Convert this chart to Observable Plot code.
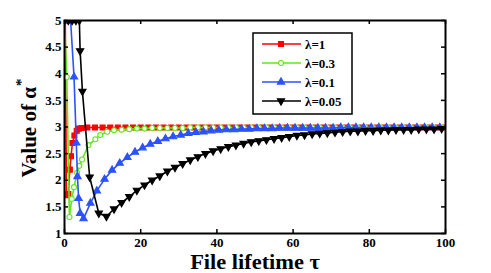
<!DOCTYPE html>
<html><head><meta charset="utf-8">
<script src="https://cdn.jsdelivr.net/npm/d3@7"></script>
<script src="https://cdn.jsdelivr.net/npm/@observablehq/plot@0.6"></script>
<style>
html,body{margin:0;padding:0;background:#fff;}
#wrap{position:relative;width:491px;height:273px;overflow:hidden;}
#wrap svg{position:absolute;left:0;top:0;}
.lbl{position:absolute;font-family:"Liberation Serif","Times New Roman",serif;font-weight:bold;color:#000;white-space:nowrap;line-height:1;}
</style>
</head><body>
<div id="wrap"></div>
<script>
// ---- data ----
const xTicks = [0, 20, 40, 60, 80, 100];
const yTicks = [1, 1.5, 2, 2.5, 3, 3.5, 4, 4.5, 5];
const seriesNames = ["λ=1", "λ=0.3", "λ=0.1", "λ=0.05"];

const redX = [0.2,0.5,1.0,1.4,1.7,2.1,2.6,3.2,3.8,4.5,6,8,10,12,14,16,18,20,22,24,26,28,30,32,34,36,38,40,42,44,46,48,50,52,54,56,58,60,62,64,66,68,70,72,74,76,78,80,82,84,86,88,90,92,94,96,98,100];
const redY = [5,1.72,1.74,2.2,2.45,2.7,2.84,2.93,2.97,2.98,2.99,2.99,2.99,2.99,2.99,2.99,2.99,2.99,2.99,2.99,2.99,2.99,2.99,2.99,2.99,2.99,2.99,2.99,2.99,2.99,2.99,2.99,2.99,2.99,2.99,2.99,2.99,2.99,2.99,2.99,2.99,2.99,2.99,2.99,2.99,2.99,2.99,2.99,2.99,2.99,2.99,2.99,2.99,2.99,2.99,2.99,2.99,2.99];

const greenX = [0,0.6,1.3,1.9,2.5,3.3,3.9,4.6,6.3,8.1,9.4,11.2,13,15,17,19,21,23,25,27,29,31,33,35,37,39,41,43,45,47,49,51,53,55,57,59,61,63,65,67,69,71,73,75,77,79,81,83,85,87,89,91,93,95,97,99];
const greenY = [5,3.94,1.31,1.65,1.87,2.14,2.27,2.39,2.66,2.77,2.85,2.91,2.94,2.95,2.96,2.97,2.97,2.98,2.98,2.98,2.98,2.98,2.99,2.99,2.99,2.99,2.99,2.99,2.99,2.99,2.99,2.99,2.99,2.99,2.99,2.99,2.99,2.99,2.99,2.99,2.99,2.99,2.99,2.99,2.99,2.99,2.99,2.99,2.99,2.99,2.99,2.99,2.99,2.99,2.99,2.99];

const blueX = [0.3,1.0,1.6,2.5,3.1,3.4,3.7,4.1,5,6.8,8.5,10.5,12.5,14.5,16.5,18.5,20.5,22.5,24.5,26.5,28.5,30.5,32.5,34.5,36.5,38.5,40.5,42.5,44.5,46.5,48.5,50.5,52.5,54.5,56.5,58.5,60.5,62.5,64.5,66.5,68.5,70.5,72.5,74.5,76.5,78.5,80.5,82.5,84.5,86.5,88.5,90.5,92.5,94.5,96.5,98.5];
const blueY = [5,5,5,3.94,2.7,2.07,1.66,1.38,1.28,1.57,1.8,2.02,2.19,2.32,2.43,2.53,2.61,2.68,2.73,2.78,2.82,2.85,2.88,2.9,2.91,2.93,2.94,2.95,2.95,2.96,2.96,2.97,2.97,2.97,2.98,2.98,2.98,2.98,2.98,2.98,2.98,2.98,2.99,2.99,2.99,2.99,2.99,2.99,2.99,2.99,2.99,2.99,2.99,2.99,2.99,2.99];

const blackX = [0,1,2,3,3.9,4.1,4.7,6.6,9,11,13,15,17,19,21,23,25,27,29,31,33,35,37,39,41,43,45,47,49,51,53,55,57,59,61,63,65,67,69,71,73,75,77,79,81,83,85,87,89,91,93,95,97,99];
const blackY = [5,5,5,5,5,4.43,3.67,2.06,1.38,1.32,1.46,1.58,1.69,1.81,1.91,2.0,2.08,2.17,2.24,2.31,2.38,2.44,2.5,2.55,2.59,2.63,2.66,2.69,2.72,2.74,2.76,2.78,2.8,2.82,2.84,2.85,2.87,2.88,2.89,2.9,2.91,2.92,2.92,2.93,2.93,2.94,2.94,2.95,2.95,2.95,2.96,2.96,2.96,2.97];

// ---- styles ----
const colors = ["#ff0000", "#5ee81a", "#2a52ff", "#000000"];
const sqrt3 = Math.sqrt(3);
const triangleDown = {
  draw(context, size) {
    const y = -Math.sqrt(size / (sqrt3 * 3));
    context.moveTo(0, -y * 2);
    context.lineTo(-sqrt3 * y, y);
    context.lineTo(sqrt3 * y, y);
    context.closePath();
  }
};
const toRows = (xs, ys) => xs.map((x, i) => ({x, y: ys[i]}));
const series = [
  {data: toRows(redX, redY), color: colors[0], symbol: "square", r: 2.8, fill: colors[0], stroke: colors[0]},
  {data: toRows(greenX, greenY), color: colors[1], symbol: "circle", r: 2.5, fill: "white", stroke: colors[1]},
  {data: toRows(blueX, blueY), color: colors[2], symbol: "triangle", r: 2.7, fill: colors[2], stroke: colors[2]},
  {data: toRows(blackX, blackY), color: colors[3], symbol: triangleDown, r: 2.7, fill: colors[3], stroke: colors[3]}
];

const W = 491, H = 273, mL = 64, mR = 46, mT = 20, mB = 40;
const frameH = H - mT - mB, frameW = W - mL - mR, tk = 4;

const marks = [];
for (const s of series) {
  marks.push(Plot.line(s.data, {x: "x", y: "y", stroke: s.color, strokeWidth: 1.6, clip: true}));
  marks.push(Plot.dot(s.data, {x: "x", y: "y", symbol: s.symbol, r: s.r, fill: s.fill, stroke: s.stroke, strokeWidth: 1.1, clip: true}));
}
marks.push(
  Plot.tickX(xTicks, {x: d => d, insetTop: frameH - tk, stroke: "#000", strokeWidth: 1.5}),
  Plot.tickX(xTicks, {x: d => d, insetBottom: frameH - tk, stroke: "#000", strokeWidth: 1.5}),
  Plot.tickY(yTicks, {y: d => d, insetRight: frameW - tk, stroke: "#000", strokeWidth: 1.5}),
  Plot.tickY(yTicks, {y: d => d, insetLeft: frameW - tk, stroke: "#000", strokeWidth: 1.5}),
  Plot.axisX({ticks: xTicks, tickSize: 0, tickPadding: 4, tickFormat: d => String(d), label: null}),
  Plot.axisY({ticks: yTicks, tickSize: 0, tickPadding: 3, tickFormat: d => String(d), label: null}),
  Plot.frame({stroke: "#000", strokeWidth: 2})
);

const chart = Plot.plot({
  width: W, height: H,
  marginLeft: mL, marginRight: mR, marginTop: mT, marginBottom: mB,
  x: {domain: [0, 100]},
  y: {domain: [1, 5]},
  style: {fontFamily: '"Liberation Serif","Times New Roman",serif', fontWeight: "bold", fontSize: "13px", color: "#000", background: "transparent", overflow: "visible"},
  marks
});
const wrap = document.getElementById("wrap");
wrap.appendChild(chart);

// ---- legend overlay ----
const leg = d3.select(wrap).append("svg").attr("width", W).attr("height", H).style("pointer-events", "none");
const box = {x: 253, y: 33, w: 99, h: 81};
leg.append("rect").attr("x", box.x).attr("y", box.y).attr("width", box.w).attr("height", box.h)
  .attr("fill", "white").attr("stroke", "#000").attr("stroke-width", 1.5);
series.forEach((s, i) => {
  const cy = 44 + i * 19;
  const g = leg.append("g");
  g.append("line").attr("x1", 262).attr("x2", 301).attr("y1", cy).attr("y2", cy).attr("stroke", s.color).attr("stroke-width", 1.6);
  const sym = typeof s.symbol === "string" ? {square: d3.symbolSquare, circle: d3.symbolCircle, triangle: d3.symbolTriangle}[s.symbol] : s.symbol;
  g.append("path").attr("transform", `translate(281,${cy})`)
    .attr("d", d3.symbol(sym, s.r * s.r * Math.PI)())
    .attr("fill", s.fill).attr("stroke", s.stroke).attr("stroke-width", 1.1);
  g.append("text").attr("x", 305).attr("y", cy + 4.5).text(seriesNames[i])
    .attr("font-family", '"Liberation Serif","Times New Roman",serif').attr("font-weight", "bold").attr("font-size", 13);
});

// ---- axis titles ----
const xl = document.createElement("div");
xl.className = "lbl";
xl.style.cssText += "font-size:20px;left:255px;top:252px;transform:translateX(-50%) scaleX(1.12);";
xl.textContent = "File lifetime τ";
wrap.appendChild(xl);

const yl = document.createElement("div");
yl.className = "lbl";
yl.style.cssText += "font-size:21px;left:27px;top:128px;transform:translate(-50%,-50%) rotate(-90deg);";
yl.innerHTML = 'Value of α<sup style="font-size:15px;vertical-align:10px;margin-left:1px;line-height:1;">*</sup>';
wrap.appendChild(yl);
</script>
</body></html>
